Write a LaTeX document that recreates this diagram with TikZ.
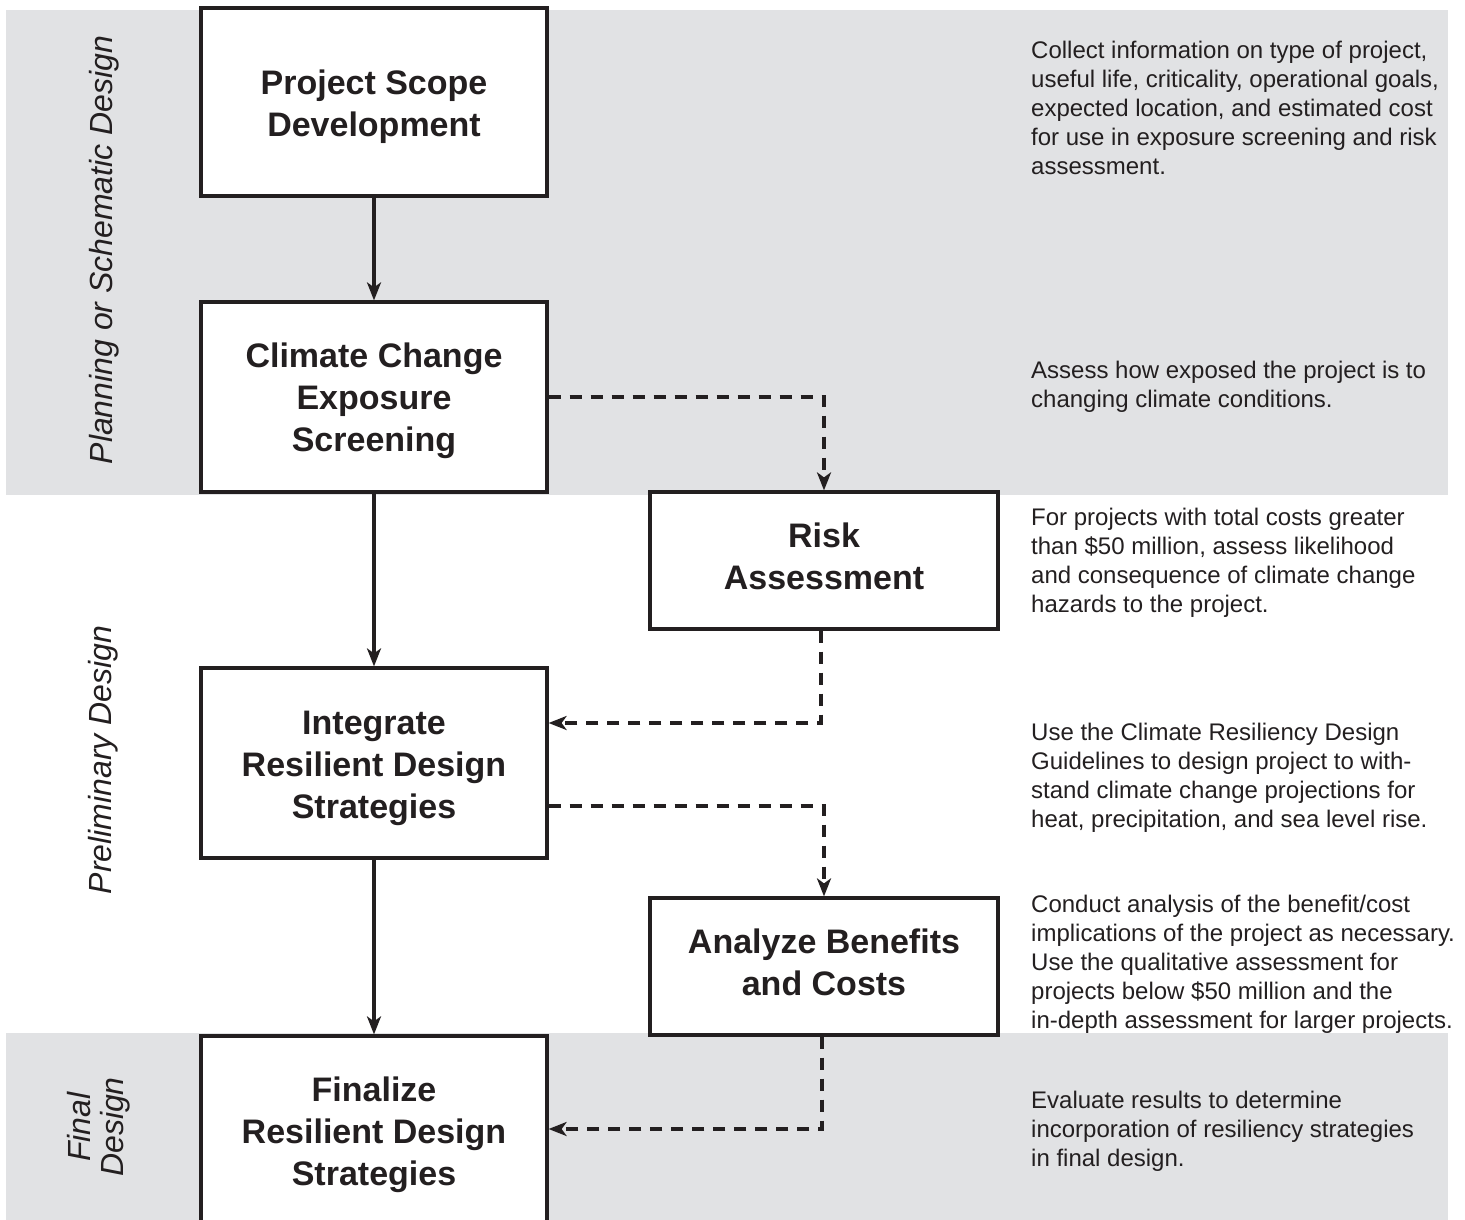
\documentclass[tikz,border=0pt]{standalone}
\usepackage{fontspec}
\setmainfont{Liberation Sans}
\usetikzlibrary{arrows.meta}
\definecolor{band}{HTML}{E1E2E4}
\definecolor{ink}{HTML}{231F20}
\newcommand\tstrut[1]{\rule{0pt}{#1pt}}
\newcommand\bstrut{\rule[-10pt]{0pt}{10pt}}
\begin{document}
\begin{tikzpicture}[x=1pt,y=-1pt,
  stepbox/.style={draw=ink, line width=3.2pt, fill=white, minimum width=346pt, inner sep=0pt,
    align=center, font=\fontsize{34}{42}\selectfont\bfseries, text=ink},
  desc/.style={anchor=north west, inner sep=0pt, align=left,
    font=\fontsize{24}{29}\selectfont, text=ink},
  phase/.style={rotate=90, inner sep=0pt, font=\fontsize{32}{33}\selectfont\itshape, text=ink},
  flow/.style={draw=ink, line width=3.2pt, -{Stealth[length=18pt,width=14pt,inset=5pt]}},
  dflow/.style={flow, dash pattern=on 12pt off 9pt}]
\path[use as bounding box] (0,0) rectangle (1465,1220);
\clip (0,0) rectangle (1465,1220);
% phase bands
\fill[band] (6,10) rectangle (1448,495);
\fill[band] (6,1033) rectangle (1448,1225);
% boxes
\node[stepbox, minimum height=188pt] (scope) at (374,102)
  {\tstrut{38}Project Scope\\Development\bstrut};
\node[stepbox, minimum height=190pt] (climate) at (374,397)
  {\tstrut{34.4}Climate Change\\Exposure\\Screening\bstrut};
\node[stepbox, minimum width=348pt, minimum height=137pt] (risk) at (824,560.5)
  {\tstrut{25.4}Risk\\Assessment\bstrut};
\node[stepbox, minimum height=190pt] (integ) at (374,763)
  {\tstrut{37}Integrate\\Resilient Design\\Strategies\bstrut};
\node[stepbox, minimum width=348pt, minimum height=137pt] (anal) at (824,966.5)
  {\tstrut{25.4}Analyze Benefits\\and Costs\bstrut};
\node[stepbox, minimum height=190pt] (final) at (374,1131)
  {\tstrut{34.4}Finalize\\Resilient Design\\Strategies\bstrut};
% connectors
\draw[flow] (scope) -- (climate);
\draw[flow] (climate) -- (integ);
\draw[flow] (integ) -- (final);
\draw[dflow] (climate.east) -| (risk.north);
\draw[dflow] ([xshift=-3pt]risk.south) |- ([yshift=40pt]integ.east);
\draw[dflow] ([yshift=-43pt]integ.east) -| (anal.north);
\draw[dflow] ([xshift=-2pt]anal.south) |- ([yshift=2pt]final.east);
% phase labels
\node[phase, anchor=base] (p1) at (112,250) {Planning or Schematic Design};
\node[phase, anchor=base] (p2) at (111,760) {Preliminary Design};
\node[phase, align=center, anchor=center] (p3) at (98.5,1127) {Final\\Design};
% descriptions
\node[desc] (d1) at (1031,40.7) {Collect information on type of project,\\useful life, criticality, operational goals,\\expected location, and estimated cost\\for use in exposure screening and risk\\assessment.};
\node[desc] (d2) at (1031,360.7) {Assess how exposed the project is to\\changing climate conditions.};
\node[desc] (d3) at (1031,507.7) {For projects with total costs greater\\than \$50 million, assess likelihood\\and consequence of climate change\\hazards to the project.};
\node[desc] (d4) at (1031,722.7) {Use the Climate Resiliency Design\\Guidelines to design project to with-\\stand climate change projections for\\heat, precipitation, and sea level rise.};
\node[desc] (d5) at (1031,894.7) {Conduct analysis of the benefit/cost\\implications of the project as necessary.\\Use the qualitative assessment for\\projects below \$50 million and the\\in-depth assessment for larger projects.};
\node[desc] (d6) at (1031,1090.7) {Evaluate results to determine\\incorporation of resiliency strategies\\in final design.};
\end{tikzpicture}
\end{document}
